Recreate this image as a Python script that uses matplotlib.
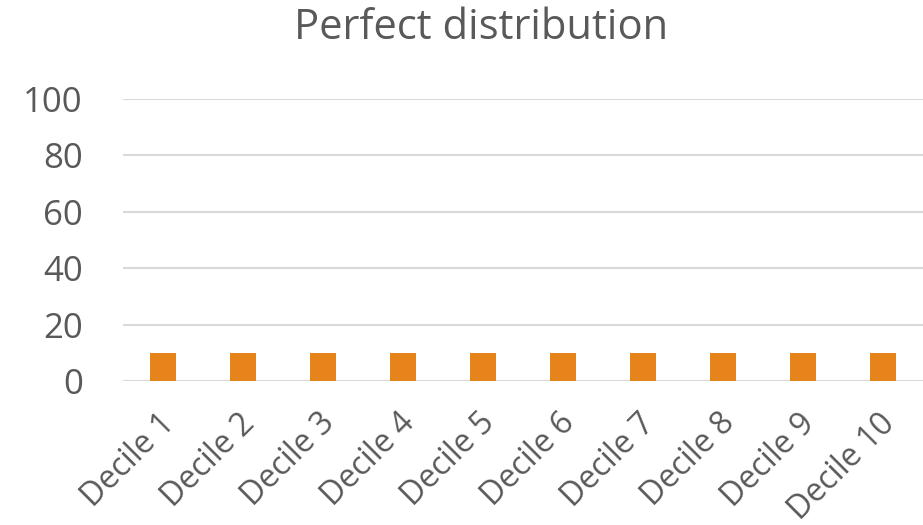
import numpy as np
import matplotlib.pyplot as plt
import matplotlib.transforms as mtransforms

# chart data
categories = ["Decile 1", "Decile 2", "Decile 3", "Decile 4", "Decile 5",
              "Decile 6", "Decile 7", "Decile 8", "Decile 9", "Decile 10"]
values = [10, 10, 10, 10, 10, 10, 10, 10, 10, 10]
y_ticks = [0, 20, 40, 60, 80, 100]

plt.rcParams["font.family"] = ["Open Sans", "DejaVu Sans"]
text_color = "#595959"

fig = plt.figure(figsize=(9.23, 5.25), dpi=100)
ax = fig.add_axes([123 / 923, 1 - 381 / 525, 800 / 923, 282 / 525])

x = np.arange(len(categories))
ax.bar(x, values, width=0.33, color="#E6831A", zorder=3)

ax.set_xlim(-0.5, len(categories) - 0.5)
ax.set_ylim(0, 100)
ax.set_yticks(y_ticks)
ax.set_yticklabels([str(t) for t in y_ticks], fontsize=25, color=text_color)
ax.set_xticks(x)
ax.set_xticklabels(categories, rotation=45, ha="right", va="center",
                   rotation_mode="anchor", fontsize=23, color=text_color)
ax.tick_params(axis="both", length=0)
ax.tick_params(axis="y", pad=29)
ax.tick_params(axis="x", pad=27)

# nudge the rotated labels a little to the right, like the original
shift = mtransforms.ScaledTranslation(7 / 100, 0, fig.dpi_scale_trans)
for lbl in ax.get_xticklabels():
    lbl.set_transform(lbl.get_transform() + shift)

ax.grid(axis="y", color="#D9D9D9", linewidth=1.5, zorder=0)
for s in ax.spines.values():
    s.set_visible(False)

fig.text(481 / 923, 1 - 28 / 525, "Perfect distribution", ha="center", va="center",
         fontsize=30, color=text_color)

fig.savefig("out.png", dpi=100)
